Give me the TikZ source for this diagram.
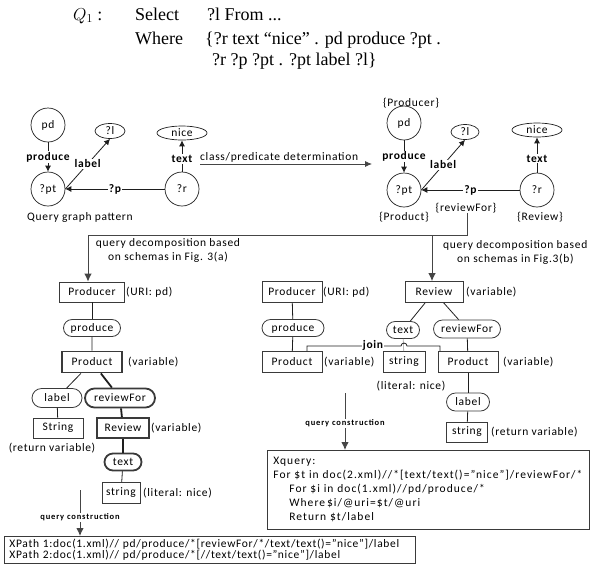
\documentclass[tikz,border=0pt]{standalone}
\usepackage{fontspec}
\setmainfont{Carlito}[LetterSpace=6]
\newfontfamily\serifq{Liberation Serif}
\usetikzlibrary{shapes.geometric,shapes.misc,arrows.meta}
\definecolor{lc}{HTML}{1E1E1E}
\definecolor{bc}{HTML}{3A3A3A}
\definecolor{dc}{HTML}{454545}
\begin{document}
\begin{tikzpicture}[x=1pt,y=-1pt,
  font=\fontsize{11.5}{14}\selectfont,
  ln/.style={draw=lc, line width=0.8pt},
  thk/.style={draw=lc, line width=1.8pt},
  circ/.style={circle, draw=lc, line width=0.7pt, minimum size=34pt, inner sep=0pt},
  ell/.style={ellipse, draw=lc, line width=0.7pt, inner sep=0pt},
  bx/.style={rectangle, draw=bc, line width=0.8pt, inner sep=0pt},
  tbx/.style={bx, line width=1.8pt},
  pill/.style={rounded rectangle, draw=bc, line width=0.8pt, inner sep=0pt},
  tpill/.style={pill, line width=1.8pt},
  lbl/.style={font=\bfseries\fontsize{11.5}{14}\selectfont, fill=white, inner sep=1pt},
  note/.style={anchor=west, inner sep=0pt},
  capn/.style={inner sep=0pt},
  garr/.style={ln, -{Latex[length=6pt,width=6pt]}},
  darr/.style={draw=dc, line width=1pt, -{Latex[length=8pt,width=7.5pt]}},
  qcl/.style={font=\bfseries\fontsize{8.5}{10}\selectfont\addfontfeature{LetterSpace=10}, fill=white, inner sep=1pt},
  qtext/.style={anchor=base west, inner sep=0pt, font=\serifq\fontsize{18}{22}\selectfont}
]
\useasboundingbox (0,0) rectangle (593,571);

% ---------- query text ----------
\node[qtext] (qa) at (73,20) {$Q_1$ :};
\node[qtext] (qb) at (135,20) {Select};
\node[qtext] (qc) at (207,20) {?l From ...};
\node[qtext] (qd) at (135,44) {Where};
\node[qtext] (qe) at (205,44) {\{?r text “nice” . pd produce ?pt .};
\node[qtext] (qf) at (212,65) {?r ?p ?pt . ?pt label ?l\}};

% ---------- left query graph ----------
\node[circ] (pd1) at (48,125) {pd};
\node[circ] (pt1) at (48,189) {?pt};
\node[ell, minimum width=30pt, minimum height=15pt] (l1) at (110,131) {?l};
\node[ell, minimum width=50pt, minimum height=14pt] (nice1) at (182,133) {nice};
\node[circ] (r1) at (182,189) {?r};
\draw[garr] (pd1) -- node[lbl]{produce} (pt1);
\draw[garr] (pt1.east) -- node[lbl]{label} (l1.south);
\draw[garr] (r1) -- node[lbl]{?p} (pt1.east);
\draw[garr] (r1) -- node[lbl, pos=0.4]{text} (nice1);
\node[anchor=west, inner sep=0pt] (qgp) at (27,217) {Query graph pattern};

% ---------- class/predicate arrow ----------
\coordinate (cpA) at (200,164);
\coordinate (cpB) at (372,164);
\draw[draw=dc, line width=0.8pt, -{Latex[length=7pt,width=6pt]}] (cpA) -- (cpB);
\node[anchor=south west, inner sep=0pt] (cpt) at (200,162.5) {class/predicate determination};

% ---------- right query graph ----------
\node[circ] (pd2) at (404,123) {pd};
\node[circ] (pt2) at (404,190) {?pt};
\node[ell, minimum width=28pt, minimum height=15pt] (l2) at (465,132) {?l};
\node[ell, minimum width=50pt, minimum height=14pt] (nice2) at (537,130) {nice};
\node[circ] (r2) at (537,190) {?r};
\draw[garr] (pd2) -- node[lbl]{produce} (pt2);
\draw[garr] (pt2.east) -- node[lbl]{label} (l2.south);
\draw[garr] (r2) -- node[lbl]{?p} (pt2.east);
\draw[garr] (r2) -- node[lbl, pos=0.4]{text} (nice2);
\node[capn] (cprod) at (411,103) {\{Producer\}};
\node[capn] (cpdt) at (404,217) {\{Product\}};
\node[capn] (crf) at (466,208) {\{reviewFor\}};
\node[capn] (crev) at (540,217) {\{Review\}};

% ---------- decomposition connectors ----------
\coordinate (dA) at (467,235);
\coordinate (dL) at (88,235);
\coordinate (dR) at (432,235);
\draw[draw=dc, line width=1pt] (crf.south -| dA) -- (dA) -- (dL);

\node[align=center, inner sep=0pt] (decL) at (168,250) {query decomposition based\\on schemas in Fig. 3(a)};
\node[note] (decR1) at (443,245) {query decomposition based};
\node[note] (decR2) at (457,259) {on schemas in Fig.3(b)};

% ---------- left decomposition tree ----------
\node[bx, minimum width=65pt, minimum height=20pt] (prod1) at (92,292) {Producer};
\node[note] at (126,292) {(URI: pd)};
\node[pill, minimum width=57pt, minimum height=17pt] (pr1) at (92,328) {produce};
\node[tbx, minimum width=60pt, minimum height=21pt] (pdt1) at (92,362) {Product};
\node[note] at (128,362) {(variable)};
\node[pill, minimum width=50pt, minimum height=19pt] (lab1) at (57,398) {label};
\node[tpill, minimum width=70pt, minimum height=19pt] (rf1) at (120,398) {reviewFor};
\node[bx, minimum width=50pt, minimum height=20pt] (str1) at (58,428) {String};
\node[capn] at (52,448) {(return variable)};
\node[tbx, minimum width=52pt, minimum height=20pt] (rev1) at (123,428) {Review};
\node[note] at (151,428) {(variable)};
\node[tpill, minimum width=37pt, minimum height=17pt] (txt1) at (123,462) {text};
\node[bx, minimum width=38pt, minimum height=21pt] (s1) at (121,493) {string};
\node[note] at (143,493) {(literal: nice)};

\draw[darr] (dL) -- (prod1.north -| dL);
\draw[ln] (prod1) -- (pr1);
\draw[ln] (pr1) -- (pdt1);
\draw[ln] (pdt1) -- (lab1);
\draw[thk] (pdt1) -- (rf1);
\draw[ln] (lab1) -- (str1);
\draw[thk] (rf1) -- (rev1);
\draw[thk] (rev1) -- (txt1);
\draw[ln] (txt1) -- (s1);

% ---------- right decomposition tree ----------
\node[bx, minimum width=60pt, minimum height=21pt] (prod2) at (292,292) {Producer};
\node[note] at (323,292) {(URI: pd)};
\node[bx, minimum width=58pt, minimum height=21pt] (rev2) at (434,292) {Review};
\node[note] at (466,292) {(variable)};
\node[pill, minimum width=62pt, minimum height=17pt] (pr2) at (293,328) {produce};
\node[pill, minimum width=33pt, minimum height=17pt] (txt2) at (403,330) {text};
\node[pill, minimum width=67pt, minimum height=18pt] (rf2) at (467,329) {reviewFor};
\node[bx, minimum width=60pt, minimum height=21pt] (pl2) at (292,362) {Product};
\node[note] at (324,362) {(variable)};
\node[bx, minimum width=42pt, minimum height=21pt] (s2) at (404,362) {string};
\node[bx, minimum width=60pt, minimum height=21pt] (pr2b) at (468,362) {Product};
\node[note] at (503,362) {(variable)};
\node[capn] at (411,386) {(literal: nice)};
\node[pill, minimum width=43pt, minimum height=18pt] (lab2) at (468,402) {label};
\node[bx, minimum width=41pt, minimum height=20pt] (str2) at (467,432) {string};
\node[note] at (491,432) {(return variable)};

\draw[darr] (dR) -- (rev2.north -| dR);
\draw[ln] (prod2) -- (pr2);
\draw[ln] (pr2) -- (pl2);
\draw[ln] (rev2) -- (txt2);
\draw[ln] (rev2) -- (rf2);
\draw[draw=gray!55, line width=0.8pt] (txt2) -- (s2);
\draw[ln] (rf2) -- (pr2b);
\draw[ln] (pr2b) -- (lab2);
\draw[ln] (lab2) -- (str2);

% join
\coordinate (j1) at (307,346);
\coordinate (j2) at (440,346);
\draw[ln] (pl2.north -| j1) -- (j1) -- (401,346) arc[start angle=180, end angle=360, radius=3] -- (j2) -- (pr2b.north -| j2);
\node[lbl] (join) at (373,345) {join};

% ---------- result boxes ----------
\node[bx, anchor=north west, minimum width=322pt, minimum height=79pt, align=left, text width=310pt, inner xsep=6pt, font=\fontsize{11.5}{14}\selectfont\addfontfeature{LetterSpace=9}] (xq) at (267,450)
 {Xquery:\\For \$t in doc(2.xml)//*[text/text()=”nice”]/reviewFor/*\\\hspace*{16pt}For \$i in doc(1.xml)//pd/produce/*\\\hspace*{16pt}Where\,\$i/@uri=\$t/@uri\\\hspace*{16pt}Return \$t/label};
\node[bx, anchor=north west, minimum width=411pt, minimum height=27pt, align=left, text width=401pt, inner xsep=5pt, font=\fontsize{11.5}{11.5}\selectfont] (xp) at (4,536)
 {XPath 1:doc(1.xml)// pd/produce/*[reviewFor/*/text/text()=”nice”]/label\\XPath 2:doc(1.xml)// pd/produce/*[//text/text()=”nice”]/label};

% query construction arrows
\coordinate (qc1) at (80,490);
\coordinate (qc2) at (345,393);
\draw[darr] (qc1) -- node[qcl, pos=0.6]{query construction} (xp.north -| qc1);
\draw[darr] (qc2) -- node[qcl, pos=0.53]{query construction} (xq.north -| qc2);
\end{tikzpicture}
\end{document}
